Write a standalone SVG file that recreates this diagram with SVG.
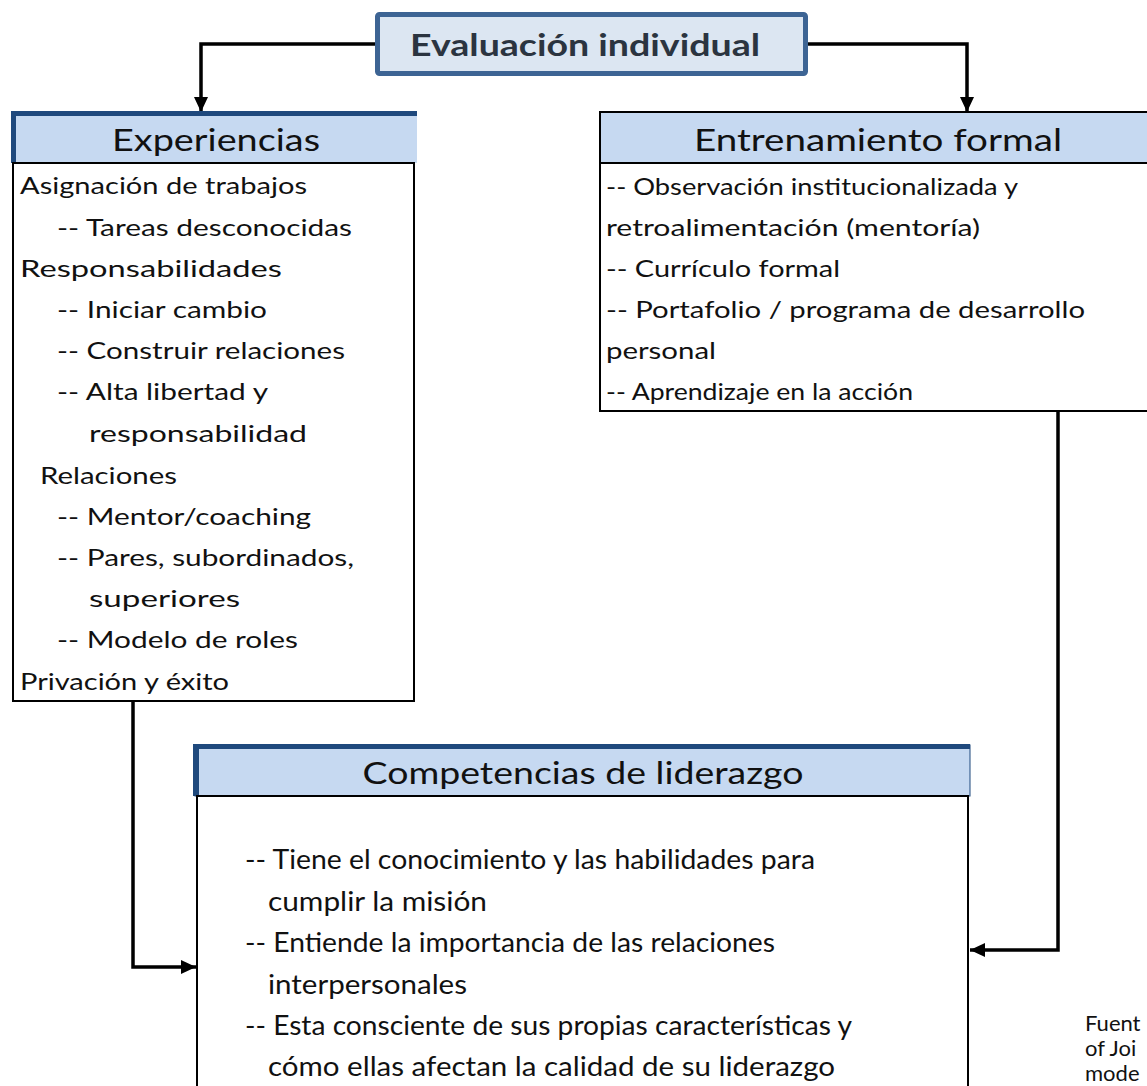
<svg xmlns="http://www.w3.org/2000/svg" width="1147" height="1086" viewBox="0 0 1147 1086">
<style>
.t{font-family:Lato,"Liberation Sans",sans-serif;fill:#111;}
.b{font-size:24px;}
.c{font-size:27px;}
.h{font-size:30px;text-anchor:middle;}
.hdr{fill:#c6d9f1;}
.body{fill:#fff;stroke:#000;stroke-width:2;}
.blue{fill:#1f497d;}
.con{fill:none;stroke:#000;stroke-width:3.5;}
.fn{font-size:22px;}
</style>
<defs>
<marker id="arr" markerUnits="userSpaceOnUse" markerWidth="16" markerHeight="14" refX="15" refY="7" orient="auto">
<path d="M0,0 L15,7 L0,14 z" fill="#000"/>
</marker>
</defs>
<rect width="1147" height="1086" fill="#fff"/>
<g id="connectors">
<path class="con" d="M376,44 H201 V112" marker-end="url(#arr)"/>
<path class="con" d="M806,44 H967 V112" marker-end="url(#arr)"/>
<path class="con" d="M133,702 V967 H196" marker-end="url(#arr)"/>
<path class="con" d="M1058,412 V950 H970" stroke-width="4" marker-end="url(#arr)"/>
</g>
<g id="evaluacion">
<rect x="377.5" y="14.5" width="428" height="59" rx="2" fill="#dce6f2" stroke="#3d6494" stroke-width="5"/>
<text class="t" x="410" y="56" font-size="31" font-weight="bold" style="fill:#2b3440" textLength="350" lengthAdjust="spacingAndGlyphs">Evaluación individual</text>
</g>
<g id="experiencias">
<rect class="hdr" x="12" y="112" width="405" height="51"/>
<rect class="blue" x="12" y="111" width="405" height="5"/>
<rect class="blue" x="11" y="111" width="5" height="52"/>
<rect class="body" x="13" y="163" width="401" height="538"/>
<text class="t h" x="216" y="151" textLength="208" lengthAdjust="spacingAndGlyphs">Experiencias</text>
<text class="t b" x="20" y="194" textLength="287" lengthAdjust="spacingAndGlyphs">Asignación de trabajos</text>
<text class="t b" x="57" y="236" textLength="295" lengthAdjust="spacingAndGlyphs">-- Tareas desconocidas</text>
<text class="t b" x="20" y="277" textLength="262" lengthAdjust="spacingAndGlyphs">Responsabilidades</text>
<text class="t b" x="57" y="318" textLength="210" lengthAdjust="spacingAndGlyphs">-- Iniciar cambio</text>
<text class="t b" x="57" y="359" textLength="288" lengthAdjust="spacingAndGlyphs">-- Construir relaciones</text>
<text class="t b" x="57" y="400" textLength="211" lengthAdjust="spacingAndGlyphs">-- Alta libertad y</text>
<text class="t b" x="89" y="442" textLength="218" lengthAdjust="spacingAndGlyphs">responsabilidad</text>
<text class="t b" x="40" y="484" textLength="137" lengthAdjust="spacingAndGlyphs">Relaciones</text>
<text class="t b" x="57" y="525" textLength="254" lengthAdjust="spacingAndGlyphs">-- Mentor/coaching</text>
<text class="t b" x="57" y="566" textLength="297" lengthAdjust="spacingAndGlyphs">-- Pares, subordinados,</text>
<text class="t b" x="89" y="607" textLength="151" lengthAdjust="spacingAndGlyphs">superiores</text>
<text class="t b" x="57" y="648" textLength="241" lengthAdjust="spacingAndGlyphs">-- Modelo de roles</text>
<text class="t b" x="20" y="690" textLength="209" lengthAdjust="spacingAndGlyphs">Privación y éxito</text>
</g>
<g id="entrenamiento">
<rect class="hdr" x="600" y="112" width="560" height="51" stroke="#000" stroke-width="2"/>
<rect class="body" x="600" y="163" width="560" height="248"/>
<text class="t h" x="878" y="151" textLength="368" lengthAdjust="spacingAndGlyphs">Entrenamiento formal</text>
<text class="t b" x="606" y="195" textLength="412" lengthAdjust="spacingAndGlyphs">-- Observación institucionalizada y</text>
<text class="t b" x="606" y="236" textLength="374" lengthAdjust="spacingAndGlyphs">retroalimentación (mentoría)</text>
<text class="t b" x="606" y="277" textLength="234" lengthAdjust="spacingAndGlyphs">-- Currículo formal</text>
<text class="t b" x="606" y="318" textLength="479" lengthAdjust="spacingAndGlyphs">-- Portafolio / programa de desarrollo</text>
<text class="t b" x="606" y="359" textLength="110" lengthAdjust="spacingAndGlyphs">personal</text>
<text class="t b" x="606" y="400" textLength="307" lengthAdjust="spacingAndGlyphs">-- Aprendizaje en la acción</text>
</g>
<g id="competencias">
<rect class="hdr" x="195" y="745" width="775" height="51" stroke="#1f497d" stroke-width="1"/>
<rect class="blue" x="194" y="744" width="776" height="5"/>
<rect class="blue" x="193" y="744" width="6" height="52"/>
<rect class="body" x="197" y="796" width="771" height="300"/>
<text class="t h" x="583" y="784" textLength="441" lengthAdjust="spacingAndGlyphs">Competencias de liderazgo</text>
<text class="t c" x="245" y="869" textLength="570" lengthAdjust="spacingAndGlyphs">-- Tiene el conocimiento y las habilidades para</text>
<text class="t c" x="268" y="911" textLength="219" lengthAdjust="spacingAndGlyphs">cumplir la misión</text>
<text class="t c" x="245" y="952" textLength="530" lengthAdjust="spacingAndGlyphs">-- Entiende la importancia de las relaciones</text>
<text class="t c" x="268" y="994" textLength="199" lengthAdjust="spacingAndGlyphs">interpersonales</text>
<text class="t c" x="245" y="1035" textLength="607" lengthAdjust="spacingAndGlyphs">-- Esta consciente de sus propias características y</text>
<text class="t c" x="268" y="1076" textLength="567" lengthAdjust="spacingAndGlyphs">cómo ellas afectan la calidad de su liderazgo</text>
</g>
<g id="fuente">
<text class="t fn" x="1085" y="1031">Fuent</text>
<text class="t fn" x="1085" y="1056">of Joi</text>
<text class="t fn" x="1085" y="1081">mode</text>
</g>
</svg>
